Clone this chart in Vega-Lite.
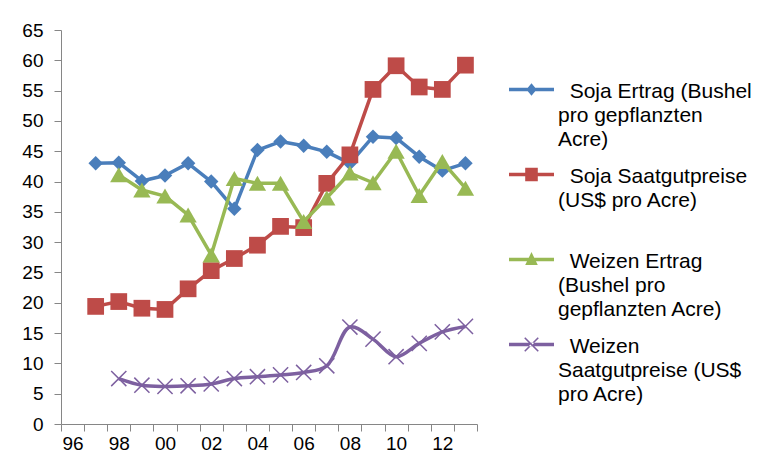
{
  "$schema": "https://vega.github.io/schema/vega-lite/v6.json",
  "width": 416,
  "height": 394,
  "autosize": {"type": "none"},
  "padding": {"left": 61, "top": 30, "right": 290, "bottom": 48},
  "background": "white",
  "config": {
    "font": "Liberation Sans",
    "view": {"stroke": null},
    "axis": {
      "grid": false,
      "domainColor": "#868686",
      "domainWidth": 1,
      "tickColor": "#868686",
      "tickWidth": 1,
      "tickSize": 7,
      "labelColor": "#000000",
      "labelFontSize": 19,
      "labelFont": "Liberation Sans",
      "title": null
    },
    "legend": {
      "orient": "none",
      "legendX": 448,
      "legendY": 37,
      "title": null,
      "padding": 0,
      "symbolSize": 2025,
      "symbolStrokeWidth": 0,
      "symbolOpacity": 1,
      "labelFontSize": 21,
      "labelColor": "#000000",
      "labelFont": "Liberation Sans",
      "labelOffset": 4,
      "labelLimit": 400,
      "labelBaseline": "top",
      "rowPadding": 2,
      "gridAlign": "all"
    }
  },
  "data": {
    "values": [
      {"jahr": 1997, "reihe": "Soja Ertrag (Bushel pro gepflanzten Acre)", "wert": 43.0},
      {"jahr": 1998, "reihe": "Soja Ertrag (Bushel pro gepflanzten Acre)", "wert": 43.1},
      {"jahr": 1999, "reihe": "Soja Ertrag (Bushel pro gepflanzten Acre)", "wert": 40.1},
      {"jahr": 2000, "reihe": "Soja Ertrag (Bushel pro gepflanzten Acre)", "wert": 41.0},
      {"jahr": 2001, "reihe": "Soja Ertrag (Bushel pro gepflanzten Acre)", "wert": 43.0},
      {"jahr": 2002, "reihe": "Soja Ertrag (Bushel pro gepflanzten Acre)", "wert": 40.0},
      {"jahr": 2003, "reihe": "Soja Ertrag (Bushel pro gepflanzten Acre)", "wert": 35.5},
      {"jahr": 2004, "reihe": "Soja Ertrag (Bushel pro gepflanzten Acre)", "wert": 45.2},
      {"jahr": 2005, "reihe": "Soja Ertrag (Bushel pro gepflanzten Acre)", "wert": 46.6},
      {"jahr": 2006, "reihe": "Soja Ertrag (Bushel pro gepflanzten Acre)", "wert": 45.9},
      {"jahr": 2007, "reihe": "Soja Ertrag (Bushel pro gepflanzten Acre)", "wert": 44.9},
      {"jahr": 2008, "reihe": "Soja Ertrag (Bushel pro gepflanzten Acre)", "wert": 43.0},
      {"jahr": 2009, "reihe": "Soja Ertrag (Bushel pro gepflanzten Acre)", "wert": 47.4},
      {"jahr": 2010, "reihe": "Soja Ertrag (Bushel pro gepflanzten Acre)", "wert": 47.2},
      {"jahr": 2011, "reihe": "Soja Ertrag (Bushel pro gepflanzten Acre)", "wert": 44.1},
      {"jahr": 2012, "reihe": "Soja Ertrag (Bushel pro gepflanzten Acre)", "wert": 41.8},
      {"jahr": 2013, "reihe": "Soja Ertrag (Bushel pro gepflanzten Acre)", "wert": 43.0},

      {"jahr": 1997, "reihe": "Soja Saatgutpreise (US$ pro Acre)", "wert": 19.4},
      {"jahr": 1998, "reihe": "Soja Saatgutpreise (US$ pro Acre)", "wert": 20.2},
      {"jahr": 1999, "reihe": "Soja Saatgutpreise (US$ pro Acre)", "wert": 19.1},
      {"jahr": 2000, "reihe": "Soja Saatgutpreise (US$ pro Acre)", "wert": 18.9},
      {"jahr": 2001, "reihe": "Soja Saatgutpreise (US$ pro Acre)", "wert": 22.3},
      {"jahr": 2002, "reihe": "Soja Saatgutpreise (US$ pro Acre)", "wert": 25.3},
      {"jahr": 2003, "reihe": "Soja Saatgutpreise (US$ pro Acre)", "wert": 27.3},
      {"jahr": 2004, "reihe": "Soja Saatgutpreise (US$ pro Acre)", "wert": 29.5},
      {"jahr": 2005, "reihe": "Soja Saatgutpreise (US$ pro Acre)", "wert": 32.6},
      {"jahr": 2006, "reihe": "Soja Saatgutpreise (US$ pro Acre)", "wert": 32.4},
      {"jahr": 2007, "reihe": "Soja Saatgutpreise (US$ pro Acre)", "wert": 39.7},
      {"jahr": 2008, "reihe": "Soja Saatgutpreise (US$ pro Acre)", "wert": 44.4},
      {"jahr": 2009, "reihe": "Soja Saatgutpreise (US$ pro Acre)", "wert": 55.2},
      {"jahr": 2010, "reihe": "Soja Saatgutpreise (US$ pro Acre)", "wert": 59.1},
      {"jahr": 2011, "reihe": "Soja Saatgutpreise (US$ pro Acre)", "wert": 55.6},
      {"jahr": 2012, "reihe": "Soja Saatgutpreise (US$ pro Acre)", "wert": 55.2},
      {"jahr": 2013, "reihe": "Soja Saatgutpreise (US$ pro Acre)", "wert": 59.2},

      {"jahr": 1998, "reihe": "Weizen Ertrag (Bushel pro gepflanzten Acre)", "wert": 41.1},
      {"jahr": 1999, "reihe": "Weizen Ertrag (Bushel pro gepflanzten Acre)", "wert": 38.6},
      {"jahr": 2000, "reihe": "Weizen Ertrag (Bushel pro gepflanzten Acre)", "wert": 37.6},
      {"jahr": 2001, "reihe": "Weizen Ertrag (Bushel pro gepflanzten Acre)", "wert": 34.5},
      {"jahr": 2002, "reihe": "Weizen Ertrag (Bushel pro gepflanzten Acre)", "wert": 27.9},
      {"jahr": 2003, "reihe": "Weizen Ertrag (Bushel pro gepflanzten Acre)", "wert": 40.5},
      {"jahr": 2004, "reihe": "Weizen Ertrag (Bushel pro gepflanzten Acre)", "wert": 39.7},
      {"jahr": 2005, "reihe": "Weizen Ertrag (Bushel pro gepflanzten Acre)", "wert": 39.7},
      {"jahr": 2006, "reihe": "Weizen Ertrag (Bushel pro gepflanzten Acre)", "wert": 33.4},
      {"jahr": 2007, "reihe": "Weizen Ertrag (Bushel pro gepflanzten Acre)", "wert": 37.3},
      {"jahr": 2008, "reihe": "Weizen Ertrag (Bushel pro gepflanzten Acre)", "wert": 41.4},
      {"jahr": 2009, "reihe": "Weizen Ertrag (Bushel pro gepflanzten Acre)", "wert": 39.8},
      {"jahr": 2010, "reihe": "Weizen Ertrag (Bushel pro gepflanzten Acre)", "wert": 45.0},
      {"jahr": 2011, "reihe": "Weizen Ertrag (Bushel pro gepflanzten Acre)", "wert": 37.7},
      {"jahr": 2012, "reihe": "Weizen Ertrag (Bushel pro gepflanzten Acre)", "wert": 43.3},
      {"jahr": 2013, "reihe": "Weizen Ertrag (Bushel pro gepflanzten Acre)", "wert": 38.9},

      {"jahr": 1998, "reihe": "Weizen Saatgutpreise (US$ pro Acre)", "wert": 7.5},
      {"jahr": 1999, "reihe": "Weizen Saatgutpreise (US$ pro Acre)", "wert": 6.4},
      {"jahr": 2000, "reihe": "Weizen Saatgutpreise (US$ pro Acre)", "wert": 6.2},
      {"jahr": 2001, "reihe": "Weizen Saatgutpreise (US$ pro Acre)", "wert": 6.3},
      {"jahr": 2002, "reihe": "Weizen Saatgutpreise (US$ pro Acre)", "wert": 6.6},
      {"jahr": 2003, "reihe": "Weizen Saatgutpreise (US$ pro Acre)", "wert": 7.5},
      {"jahr": 2004, "reihe": "Weizen Saatgutpreise (US$ pro Acre)", "wert": 7.8},
      {"jahr": 2005, "reihe": "Weizen Saatgutpreise (US$ pro Acre)", "wert": 8.1},
      {"jahr": 2006, "reihe": "Weizen Saatgutpreise (US$ pro Acre)", "wert": 8.5},
      {"jahr": 2007, "reihe": "Weizen Saatgutpreise (US$ pro Acre)", "wert": 9.6},
      {"jahr": 2008, "reihe": "Weizen Saatgutpreise (US$ pro Acre)", "wert": 16.0},
      {"jahr": 2009, "reihe": "Weizen Saatgutpreise (US$ pro Acre)", "wert": 14.0},
      {"jahr": 2010, "reihe": "Weizen Saatgutpreise (US$ pro Acre)", "wert": 11.1},
      {"jahr": 2011, "reihe": "Weizen Saatgutpreise (US$ pro Acre)", "wert": 13.3},
      {"jahr": 2012, "reihe": "Weizen Saatgutpreise (US$ pro Acre)", "wert": 15.2},
      {"jahr": 2013, "reihe": "Weizen Saatgutpreise (US$ pro Acre)", "wert": 16.1}
    ]
  },
  "encoding": {
    "x": {
      "field": "jahr",
      "type": "ordinal",
      "scale": {
        "type": "band",
        "domain": [1996, 1997, 1998, 1999, 2000, 2001, 2002, 2003, 2004, 2005, 2006, 2007, 2008, 2009, 2010, 2011, 2012, 2013],
        "paddingInner": 0,
        "paddingOuter": 0
      },
      "axis": {
        "tickBand": "extent",
        "labelAngle": 0,
        "labelPadding": 3,
        "labelExpr": "datum.value % 2 == 0 ? slice('' + datum.value, 2) : ''"
      }
    },
    "y": {
      "field": "wert",
      "type": "quantitative",
      "scale": {"domain": [0, 65], "nice": false, "zero": true},
      "axis": {"values": [0, 5, 10, 15, 20, 25, 30, 35, 40, 45, 50, 55, 60, 65], "labelPadding": 11}
    }
  },
  "layer": [
    {
      "transform": [{"filter": "datum.reihe == 'Soja Ertrag (Bushel pro gepflanzten Acre)'"}],
      "mark": {"type": "line", "strokeWidth": 3.5, "strokeJoin": "round", "color": "#4A7EBB"},
      "encoding": {}
    },
    {
      "transform": [{"filter": "datum.reihe == 'Soja Ertrag (Bushel pro gepflanzten Acre)'"}],
      "mark": {"type": "point", "shape": "diamond", "filled": true, "size": 210, "opacity": 1, "color": "#4A7EBB"}
    },
    {
      "transform": [{"filter": "datum.reihe == 'Soja Saatgutpreise (US$ pro Acre)'"}],
      "mark": {"type": "line", "strokeWidth": 3.5, "strokeJoin": "round", "color": "#BE4B48"},
      "encoding": {}
    },
    {
      "transform": [{"filter": "datum.reihe == 'Soja Saatgutpreise (US$ pro Acre)'"}],
      "mark": {"type": "point", "shape": "square", "filled": true, "size": 280, "opacity": 1, "color": "#BE4B48"}
    },
    {
      "transform": [{"filter": "datum.reihe == 'Weizen Ertrag (Bushel pro gepflanzten Acre)'"}],
      "mark": {"type": "line", "strokeWidth": 3.5, "strokeJoin": "round", "color": "#98B954"},
      "encoding": {}
    },
    {
      "transform": [{"filter": "datum.reihe == 'Weizen Ertrag (Bushel pro gepflanzten Acre)'"}],
      "mark": {"type": "point", "shape": "triangle-up", "filled": true, "size": 300, "opacity": 1, "color": "#98B954"}
    },
    {
      "transform": [{"filter": "datum.reihe == 'Weizen Saatgutpreise (US$ pro Acre)'"}],
      "mark": {"type": "line", "strokeWidth": 3.5, "strokeJoin": "round", "interpolate": "catmull-rom", "color": "#7D60A0"},
      "encoding": {}
    },
    {
      "transform": [{"filter": "datum.reihe == 'Weizen Saatgutpreise (US$ pro Acre)'"}],
      "mark": {"type": "point", "shape": "M-1,-1L1,1M-1,1L1,-1", "filled": false, "size": 230, "strokeWidth": 1.5, "opacity": 1, "color": "#7D60A0"}
    },
    {
      "mark": {"type": "point", "filled": true, "opacity": 0, "strokeWidth": 0},
      "encoding": {
        "color": {
          "field": "reihe",
          "type": "nominal",
          "scale": {
            "domain": [
              "Soja Ertrag (Bushel pro gepflanzten Acre)",
              "Soja Saatgutpreise (US$ pro Acre)",
              "Weizen Ertrag (Bushel pro gepflanzten Acre)",
              "Weizen Saatgutpreise (US$ pro Acre)"
            ],
            "range": ["#4A7EBB", "#BE4B48", "#98B954", "#7D60A0"]
          },
          "legend": {
            "labelExpr": "datum.label == 'Soja Ertrag (Bushel pro gepflanzten Acre)' ? ['\u200b\u00a0\u00a0Soja Ertrag (Bushel', 'pro gepflanzten', 'Acre)'] : datum.label == 'Soja Saatgutpreise (US$ pro Acre)' ? ['\u200b\u00a0\u00a0Soja Saatgutpreise', '(US$ pro Acre)'] : datum.label == 'Weizen Ertrag (Bushel pro gepflanzten Acre)' ? ['\u200b\u00a0\u00a0Weizen Ertrag', '(Bushel pro', 'gepflanzten Acre)'] : ['\u200b\u00a0\u00a0Weizen', 'Saatgutpreise (US$', 'pro Acre)']",
            "encode": {"labels": {"update": {"lineHeight": {"value": 24}, "dy": {"value": -9}}}}
          }
        },
        "shape": {
          "field": "reihe",
          "type": "nominal",
          "scale": {
            "domain": [
              "Soja Ertrag (Bushel pro gepflanzten Acre)",
              "Soja Saatgutpreise (US$ pro Acre)",
              "Weizen Ertrag (Bushel pro gepflanzten Acre)",
              "Weizen Saatgutpreise (US$ pro Acre)"
            ],
            "range": [
              "M-1,-0.075L1,-0.075L1,0.075L-1,0.075ZM0,-0.28L0.23,0L0,0.28L-0.23,0Z",
              "M-1,-0.075L1,-0.075L1,0.075L-1,0.075ZM-0.28,-0.3L0.28,-0.3L0.28,0.3L-0.28,0.3Z",
              "M-1,-0.075L1,-0.075L1,0.075L-1,0.075ZM0,-0.33L0.28,0.24L-0.28,0.24Z",
              "M-1,-0.075L1,-0.075L1,0.075L-1,0.075ZM-0.275,-0.325L0.325,0.275L0.275,0.325L-0.325,-0.275ZM0.275,-0.325L-0.325,0.275L-0.275,0.325L0.325,-0.275Z"
            ]
          },
          "legend": {
            "labelExpr": "datum.label == 'Soja Ertrag (Bushel pro gepflanzten Acre)' ? ['\u200b\u00a0\u00a0Soja Ertrag (Bushel', 'pro gepflanzten', 'Acre)'] : datum.label == 'Soja Saatgutpreise (US$ pro Acre)' ? ['\u200b\u00a0\u00a0Soja Saatgutpreise', '(US$ pro Acre)'] : datum.label == 'Weizen Ertrag (Bushel pro gepflanzten Acre)' ? ['\u200b\u00a0\u00a0Weizen Ertrag', '(Bushel pro', 'gepflanzten Acre)'] : ['\u200b\u00a0\u00a0Weizen', 'Saatgutpreise (US$', 'pro Acre)']",
            "encode": {"labels": {"update": {"lineHeight": {"value": 24}, "dy": {"value": -9}}}}
          }
        }
      }
    }
  ]
}
